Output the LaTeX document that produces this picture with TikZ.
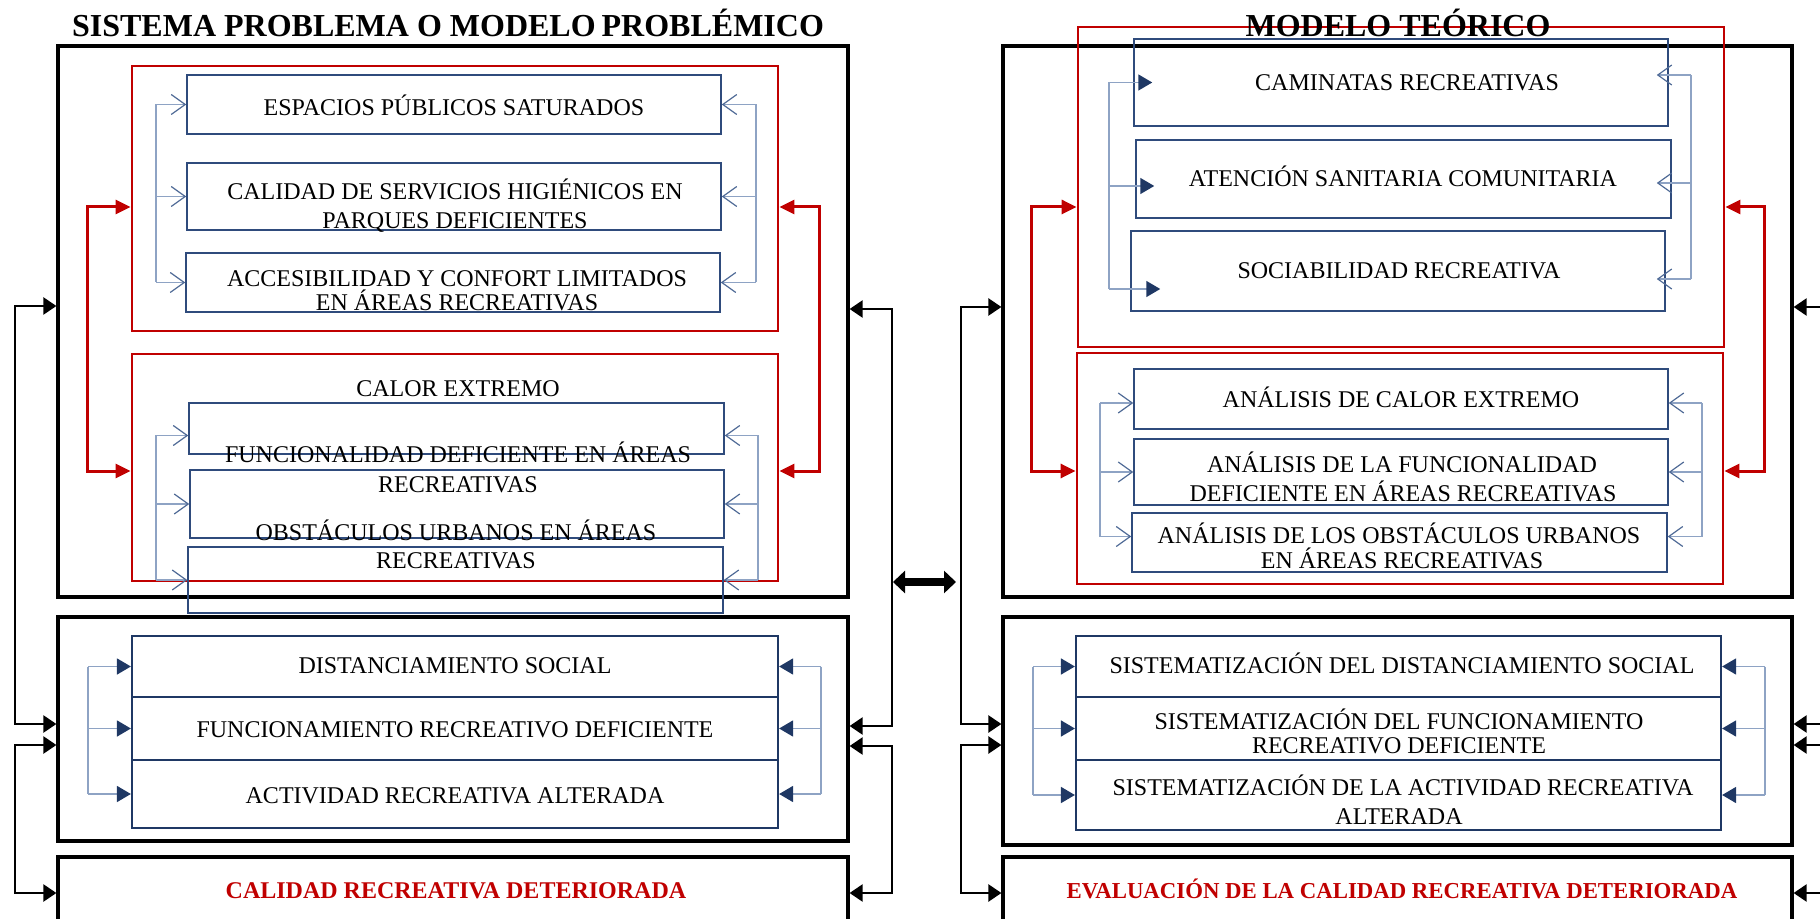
\documentclass[tikz,border=0pt]{standalone}
\usepackage{fontspec}
\setmainfont{Liberation Serif}
\usetikzlibrary{arrows.meta,fit,calc}
\definecolor{myred}{HTML}{C00000}
\definecolor{navy}{HTML}{1F3864}
\definecolor{boxblue}{HTML}{2F4B7C}
\definecolor{lightln}{HTML}{8EA3C4}
\definecolor{headblue}{HTML}{4F6A96}
\begin{document}
\begin{tikzpicture}[x=0.5pt,y=-0.5pt,
 frame/.style={draw=black,line width=1.6pt,inner sep=0pt},
 redframe/.style={draw=myred,line width=1.4pt,inner sep=0pt},
 bbox/.style={draw=boxblue,line width=0.75pt,inner sep=0pt},
 sbox/.style={draw=navy,line width=1.1pt,inner sep=0pt},
 txt/.style={font=\fontsize{12}{14}\selectfont,anchor=base,inner sep=0pt},
 rtxt/.style={font=\fontsize{12}{14}\selectfont\bfseries,text=myred,anchor=base,inner sep=0pt},
 ttl/.style={font=\fontsize{16}{19}\selectfont\bfseries,anchor=base,inner sep=0pt},
 bline/.style={draw=lightln,line width=0.8pt},
 openarr/.style={bline,-{Straight Barb[length=7pt,width=10pt,line width=0.6pt,color=headblue]}},
 fillarr/.style={bline,-{Triangle[length=7pt,width=8pt,color=navy]}},
 redarr/.style={draw=myred,line width=1.5pt,{Triangle[length=7.5pt,width=7pt]}-{Triangle[length=7.5pt,width=7pt]}},
 blkarr/.style={draw=black,line width=1.2pt,{Triangle[length=6.5pt,width=8.5pt]}-{Triangle[length=6.5pt,width=8.5pt]}},
 dblarr/.style={draw=black,line width=4pt,{Triangle[length=6pt,width=11pt]}-{Triangle[length=6pt,width=11pt]}}
]
\useasboundingbox (0,0) rectangle (1820,919);
\clip (0,0) rectangle (1820,919);

% ================= LEFT PANEL =================
\node[frame,fit={(58,46)(848,597)}] (L1) {};
\node[redframe,fit={(132,66)(778,331)}] (LR1) {};
\node[bbox,fit={(187,75)(721,134)}] (LA) {};
\node[bbox,fit={(187,163)(721,230)}] (LB) {};
\node[bbox,fit={(186,253)(720,312)}] (LC) {};
\node[redframe,fit={(132,354)(778,581)}] (LR2) {};
\node[bbox,fit={(189,403)(724,454)}] (LD) {};
\node[bbox,fit={(190,470)(724,538)}] (LE) {};
\node[bbox,fit={(188,547)(723,613)}] (LF) {};
\node[frame,fit={(58,617)(848,841)}] (L2) {};
\node[sbox,fit={(132,636)(778,697)}] (LS1) {};
\node[sbox,fit={(132,697)(778,760)}] (LS2) {};
\node[sbox,fit={(132,760)(778,828)}] (LS3) {};
\node[frame,fit={(58,857)(848,940)}] (L3) {};

% texts left
\node[ttl] (tL) at (448,37) {SISTEMA PROBLEMA O MODELO\kern3pt PROBLÉMICO};
\node[txt] (tLA) at (454,116) {ESPACIOS PÚBLICOS SATURADOS};
\node[txt] (tLB1) at (455,200) {CALIDAD DE SERVICIOS HIGIÉNICOS EN};
\node[txt] (tLB2) at (455,229) {PARQUES DEFICIENTES};
\node[txt] (tLC1) at (457,287) {ACCESIBILIDAD Y CONFORT LIMITADOS};
\node[txt] (tLC2) at (457,311) {EN ÁREAS RECREATIVAS};
\node[txt] (tLD) at (458,397) {CALOR EXTREMO};
\node[txt] (tLE1) at (458,463) {FUNCIONALIDAD DEFICIENTE EN ÁREAS};
\node[txt] (tLE2) at (458,493) {RECREATIVAS};
\node[txt] (tLF1) at (456,540) {OBSTÁCULOS URBANOS EN ÁREAS};
\node[txt] (tLF2) at (456,568) {RECREATIVAS};
\node[txt] (tLS1) at (455,673) {DISTANCIAMIENTO SOCIAL};
\node[txt] (tLS2) at (455,737) {FUNCIONAMIENTO RECREATIVO DEFICIENTE};
\node[txt] (tLS3) at (455,803) {ACTIVIDAD RECREATIVA ALTERADA};
\node[rtxt] (tL3) at (456,898) {CALIDAD RECREATIVA DETERIORADA};

% blue connectors, red box 1 (left)
\coordinate (bl1) at (156,0);
\coordinate (br1) at (756,0);
\draw[bline] (LA.west -| bl1) -- (LC.west -| bl1);
\draw[openarr] (LA.west -| bl1) -- (LA.west);
\draw[openarr] (LB.west -| bl1) -- (LB.west);
\draw[openarr] (LC.west -| bl1) -- (LC.west);
\draw[bline] (LA.east -| br1) -- (LC.east -| br1);
\draw[openarr] (LA.east -| br1) -- (LA.east);
\draw[openarr] (LB.east -| br1) -- (LB.east);
\draw[openarr] (LC.east -| br1) -- (LC.east);

% blue connectors, red box 2 (left)
\coordinate (bl2) at (156,0);
\coordinate (br2) at (758,0);
\coordinate (Dl) at ($(LD.west)+(0,7)$);
\coordinate (Dr) at ($(LD.east)+(0,7)$);
\draw[bline] (Dl -| bl2) -- (LF.west -| bl2);
\draw[openarr] (Dl -| bl2) -- (Dl);
\draw[openarr] (LE.west -| bl2) -- (LE.west);
\draw[openarr] (LF.west -| bl2) -- (LF.west);
\draw[bline] (Dr -| br2) -- (LF.east -| br2);
\draw[openarr] (Dr -| br2) -- (Dr);
\draw[openarr] (LE.east -| br2) -- (LE.east);
\draw[openarr] (LF.east -| br2) -- (LF.east);

% blue connectors, row 2 (left)
\coordinate (bl3) at (88,0);
\coordinate (br3) at (821,0);
\draw[bline] (LS1.west -| bl3) -- (LS3.west -| bl3);
\draw[fillarr] (LS1.west -| bl3) -- (LS1.west);
\draw[fillarr] (LS2.west -| bl3) -- (LS2.west);
\draw[fillarr] (LS3.west -| bl3) -- (LS3.west);
\draw[bline] (LS1.east -| br3) -- (LS3.east -| br3);
\draw[fillarr] (LS1.east -| br3) -- (LS1.east);
\draw[fillarr] (LS2.east -| br3) -- (LS2.east);
\draw[fillarr] (LS3.east -| br3) -- (LS3.east);

% red connectors (left)
\coordinate (rl1) at (87,207);
\coordinate (rl2) at (87,471);
\coordinate (rr1) at (819,207);
\coordinate (rr2) at (819,471);
\draw[redarr] (rl1 -| LR1.west) -- (rl1) -- (rl2) -- (rl2 -| LR2.west);
\draw[redarr] (rr1 -| LR1.east) -- (rr1) -- (rr2) -- (rr2 -| LR2.east);

% black connectors (left)
\coordinate (ka1) at (15,306);
\coordinate (ka2) at (15,724);
\coordinate (ka3) at (15,745);
\coordinate (ka4) at (15,893);
\draw[blkarr] (ka1 -| L1.west) -- (ka1) -- (ka2) -- (ka2 -| L2.west);
\draw[blkarr] (ka3 -| L2.west) -- (ka3) -- (ka4) -- (ka4 -| L3.west);
\coordinate (kb1) at (892,309);
\coordinate (kb2) at (892,726);
\coordinate (kb3) at (892,746);
\coordinate (kb4) at (892,893);
\draw[blkarr] (kb1 -| L1.east) -- (kb1) -- (kb2) -- (kb2 -| L2.east);
\draw[blkarr] (kb3 -| L2.east) -- (kb3) -- (kb4) -- (kb4 -| L3.east);

% ================= MIDDLE =================
\coordinate (dl) at (893,582);
\coordinate (dr) at (956,582);
\draw[dblarr] (dl) -- (dr);

% ================= RIGHT PANEL =================
\node[frame,fit={(1003,46)(1792,597)}] (R1) {};
\node[redframe,fit={(1078,27)(1724,347)}] (RR1) {};
\node[bbox,fit={(1134,39)(1668,126)}] (RA) {};
\node[bbox,fit={(1136,140)(1671,218)}] (RB) {};
\node[bbox,fit={(1131,231)(1665,311)}] (RC) {};
\node[redframe,fit={(1077,353)(1723,584)}] (RR2) {};
\node[bbox,fit={(1134,369)(1668,429)}] (RD) {};
\node[bbox,fit={(1134,439)(1668,505)}] (RE) {};
\node[bbox,fit={(1132,513)(1667,572)}] (RF) {};
\node[frame,fit={(1003,617)(1792,845)}] (R2) {};
\node[sbox,fit={(1076,636)(1721,697)}] (RS1) {};
\node[sbox,fit={(1076,697)(1721,760)}] (RS2) {};
\node[sbox,fit={(1076,760)(1721,830)}] (RS3) {};
\node[frame,fit={(1003,857)(1792,940)}] (R3) {};

% texts right
\node[ttl] (tR) at (1398,37) {MODELO TEÓRICO};
\node[txt] (tRA) at (1407,91) {CAMINATAS RECREATIVAS};
\node[txt] (tRB) at (1403,187) {ATENCIÓN SANITARIA COMUNITARIA};
\node[txt] (tRC) at (1399,279) {SOCIABILIDAD RECREATIVA};
\node[txt] (tRD) at (1401,408) {ANÁLISIS DE CALOR EXTREMO};
\node[txt] (tRE1) at (1402,473) {ANÁLISIS DE LA FUNCIONALIDAD};
\node[txt] (tRE2) at (1403,502) {DEFICIENTE EN ÁREAS RECREATIVAS};
\node[txt] (tRF1) at (1399,543) {ANÁLISIS DE LOS OBSTÁCULOS URBANOS};
\node[txt] (tRF2) at (1402,568) {EN ÁREAS RECREATIVAS};
\node[txt] (tRS1) at (1402,673) {SISTEMATIZACIÓN DEL DISTANCIAMIENTO SOCIAL};
\node[txt] (tRS2a) at (1399,729) {SISTEMATIZACIÓN DEL FUNCIONAMIENTO};
\node[txt] (tRS2b) at (1399,753) {RECREATIVO DEFICIENTE};
\node[txt] (tRS3a) at (1403,795) {SISTEMATIZACIÓN DE LA ACTIVIDAD RECREATIVA};
\node[txt] (tRS3b) at (1399,824) {ALTERADA};
\node[rtxt,font=\fontsize{11.4}{13}\selectfont\bfseries] (tR3) at (1402,898) {EVALUACIÓN DE LA CALIDAD RECREATIVA DETERIORADA};

% blue connectors, red box 1 (right)
\coordinate (rbl1) at (1109,0);
\coordinate (rbr1) at (1691,0);
\coordinate (ra1) at ($(RA.west)+(19,0)$);
\coordinate (ra2) at ($(RB.west)+(19,7)$);
\coordinate (ra3) at ($(RC.west)+(30,18)$);
\coordinate (rz1) at ($(RA.east)+(-12,-7.5)$);
\coordinate (rz2) at ($(RB.east)+(-15,4)$);
\coordinate (rz3) at ($(RC.east)+(-9,8)$);
\draw[bline] (ra1 -| rbl1) -- (ra3 -| rbl1);
\draw[fillarr] (ra1 -| rbl1) -- (ra1);
\draw[fillarr] (ra2 -| rbl1) -- (ra2);
\draw[fillarr] (ra3 -| rbl1) -- (ra3);
\draw[bline] (rz1 -| rbr1) -- (rz3 -| rbr1);
\draw[openarr] (rz1 -| rbr1) -- (rz1);
\draw[openarr] (rz2 -| rbr1) -- (rz2);
\draw[openarr] (rz3 -| rbr1) -- (rz3);

% blue connectors, red box 2 (right)
\coordinate (rbl2) at (1100,0);
\coordinate (rbr2) at (1702,0);
\coordinate (RDl) at ($(RD.west)+(0,4)$);
\coordinate (RDr) at ($(RD.east)+(0,4)$);
\coordinate (RFl) at ($(RF.west)+(0,-6)$);
\coordinate (RFr) at ($(RF.east)+(0,-6)$);
\draw[bline] (RDl -| rbl2) -- (RFl -| rbl2);
\draw[openarr] (RDl -| rbl2) -- (RDl);
\draw[openarr] (RE.west -| rbl2) -- (RE.west);
\draw[openarr] (RFl -| rbl2) -- (RFl);
\draw[bline] (RDr -| rbr2) -- (RFr -| rbr2);
\draw[openarr] (RDr -| rbr2) -- (RDr);
\draw[openarr] (RE.east -| rbr2) -- (RE.east);
\draw[openarr] (RFr -| rbr2) -- (RFr);

% blue connectors, row 2 (right)
\coordinate (rbl3) at (1033,0);
\coordinate (rbr3) at (1765,0);
\draw[bline] (RS1.west -| rbl3) -- (RS3.west -| rbl3);
\draw[fillarr] (RS1.west -| rbl3) -- (RS1.west);
\draw[fillarr] (RS2.west -| rbl3) -- (RS2.west);
\draw[fillarr] (RS3.west -| rbl3) -- (RS3.west);
\draw[bline] (RS1.east -| rbr3) -- (RS3.east -| rbr3);
\draw[fillarr] (RS1.east -| rbr3) -- (RS1.east);
\draw[fillarr] (RS2.east -| rbr3) -- (RS2.east);
\draw[fillarr] (RS3.east -| rbr3) -- (RS3.east);

% red connectors (right)
\coordinate (qrl1) at (1031,207);
\coordinate (qrl2) at (1031,471);
\coordinate (qrr1) at (1764,207);
\coordinate (qrr2) at (1764,471);
\draw[redarr] (qrl1 -| RR1.west) -- (qrl1) -- (qrl2) -- (qrl2 -| RR2.west);
\draw[redarr] (qrr1 -| RR1.east) -- (qrr1) -- (qrr2) -- (qrr2 -| RR2.east);

% black connectors (right)
\coordinate (kc1) at (961,307);
\coordinate (kc2) at (961,724);
\coordinate (kc3) at (961,745);
\coordinate (kc4) at (961,893);
\draw[blkarr] (kc1 -| R1.west) -- (kc1) -- (kc2) -- (kc2 -| R2.west);
\draw[blkarr] (kc3 -| R2.west) -- (kc3) -- (kc4) -- (kc4 -| R3.west);
\coordinate (kd1) at (1840,307);
\coordinate (kd2) at (1840,724);
\coordinate (kd3) at (1840,745);
\coordinate (kd4) at (1840,893);
\draw[blkarr] (kd1 -| R1.east) -- (kd1) -- (kd2) -- (kd2 -| R2.east);
\draw[blkarr] (kd3 -| R2.east) -- (kd3) -- (kd4) -- (kd4 -| R3.east);
\end{tikzpicture}
\end{document}
